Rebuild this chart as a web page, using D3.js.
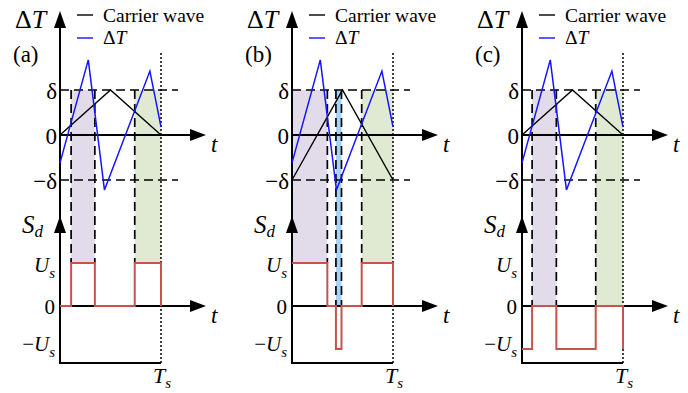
<!DOCTYPE html>
<html>
<head>
<meta charset="utf-8">
<script src="https://cdn.jsdelivr.net/npm/d3@7"></script>
<style>
  body { margin: 0; background: #fff; }
  svg text { font-family: 'Liberation Serif', 'Times New Roman', Times, serif; fill: #000; }
</style>
</head>
<body>
<svg id="chart" width="688" height="393"></svg>
<script>
// ---- data (time in units of Ts, ΔT in units of δ, S_d in units of U_s) ----
const panelLabels = ['(a)', '(b)', '(c)'];

const waveTimes = [0, 0.28, 0.44, 0.89, 1];
const deltaTValues = [-0.62, 1.67, -1.22, 1.42, 0.18];

const carrierTimes = [0, 0.5, 1];
const carrierValues = [[0, 1, 0], [-1, 1, -1], [0, 1, 0]];

const sdTimes = [
    [0, 0.11, 0.345, 0.74, 1],
    [0, 0.35, 0.435, 0.49, 0.69, 1],
    [0, 0.10, 0.34, 0.73, 1]
];
const sdLevels = [
    [0, 1, 0, 1, 0],
    [1, 0, -1, 0, 1, 0],
    [-1, 0, -1, 0, -1]
];

const shadeSpans = [
    [[0.11, 0.345], [0.74, 1]],
    [[0, 0.35], [0.435, 0.49], [0.69, 1]],
    [[0.10, 0.34], [0.73, 1]]
];
const shadeKinds = [['purple', 'green'], ['purple', 'blue', 'green'], ['purple', 'green']];
const shadeFloor = [[1, 1], [1, 0, 1], [0, 0]];

const upperTicks = [1, 0, -1];
const upperTickLabels = ['δ', '0', '−δ'];
const lowerTicks = [1, 0, -1];
const lowerTickLabels = [['', 'U', 's'], ['', '0', ''], ['−', 'U', 's']];

// ---- layout ----
const axisX = [60, 292, 522];
const span = 101;
const shadeColor = { purple: '#e2dcea', green: '#e0ead2', blue: '#a9d3f5' };
const redColor = '#c5544a';
const blueColor = '#1414ff';

const svg = d3.select('#chart');

panelLabels.forEach((label, i) => {
    const ax = axisX[i];
    const g = svg.append('g');

    const x = d3.scaleLinear().domain([0, 1]).range([ax, ax + span]);
    const yU = d3.scaleLinear().domain([-1, 1]).range([180, 90]);
    const yL = d3.scaleLinear().domain([-1, 1]).range([349, 263]);

    // shaded switching regions
    shadeSpans[i].forEach((s, j) => {
        g.append('rect')
            .attr('x', x(s[0]))
            .attr('y', yU(1))
            .attr('width', x(s[1]) - x(s[0]))
            .attr('height', yL(shadeFloor[i][j]) - yU(1))
            .attr('fill', shadeColor[shadeKinds[i][j]]);
    });

    // dashed δ / -δ guides
    [1, -1].forEach(v => {
        g.append('line')
            .attr('x1', x(0)).attr('x2', x(1) + 17)
            .attr('y1', yU(v)).attr('y2', yU(v))
            .attr('stroke', '#000').attr('stroke-width', 1.7)
            .attr('stroke-dasharray', '9,5');
    });

    // dashed switching edges
    shadeSpans[i].forEach((s, j) => {
        s.forEach(t => {
            if (t === 0 || t === 1) return;
            g.append('line')
                .attr('x1', x(t)).attr('x2', x(t))
                .attr('y1', yU(1)).attr('y2', yL(shadeFloor[i][j]))
                .attr('stroke', '#000').attr('stroke-width', 1.7)
                .attr('stroke-dasharray', '9,5');
        });
    });

    // dotted Ts line
    g.append('line')
        .attr('x1', x(1)).attr('x2', x(1))
        .attr('y1', 53).attr('y2', 363)
        .attr('stroke', '#000').attr('stroke-width', 1.5)
        .attr('stroke-dasharray', '2,2');

    // axes
    const axisStyle = sel => sel.attr('stroke', '#000').attr('stroke-width', 2);
    g.append('line').attr('x1', ax).attr('x2', ax).attr('y1', 364).attr('y2', 20).call(axisStyle);
    g.append('line').attr('x1', ax).attr('x2', x(1)).attr('y1', 363).attr('y2', 363).call(axisStyle);
    [yU(0), yL(0)].forEach(yy => {
        g.append('line').attr('x1', ax).attr('x2', x(1) + 36).attr('y1', yy).attr('y2', yy).call(axisStyle);
        g.append('path')
            .attr('d', `M${x(1) + 45},${yy} L${x(1) + 29},${yy - 6} L${x(1) + 29},${yy + 6} Z`)
            .attr('fill', '#000');
    });
    g.append('path').attr('d', `M${ax},11 L${ax - 6},28 L${ax + 6},28 Z`).attr('fill', '#000');
    g.append('path').attr('d', `M${ax},216 L${ax - 6},233 L${ax + 6},233 Z`).attr('fill', '#000');

    // carrier wave
    const lineU = d3.line().x(d => x(d[0])).y(d => yU(d[1]));
    g.append('path')
        .datum(carrierTimes.map((t, k) => [t, carrierValues[i][k]]))
        .attr('d', lineU)
        .attr('fill', 'none').attr('stroke', '#000').attr('stroke-width', 1.4);

    // ΔT
    g.append('path')
        .datum(waveTimes.map((t, k) => [t, deltaTValues[k]]))
        .attr('d', lineU)
        .attr('fill', 'none').attr('stroke', blueColor).attr('stroke-width', 1.5);

    // S_d
    const lineL = d3.line().x(d => x(d[0])).y(d => yL(d[1])).curve(d3.curveStepAfter);
    g.append('path')
        .datum(sdTimes[i].map((t, k) => [t, sdLevels[i][k]]))
        .attr('d', lineL)
        .attr('fill', 'none').attr('stroke', redColor).attr('stroke-width', 2);

    // legend
    g.append('line').attr('x1', ax + 17).attr('x2', ax + 33).attr('y1', 15).attr('y2', 15)
        .attr('stroke', '#000').attr('stroke-width', 1.4);
    g.append('text').attr('x', ax + 43).attr('y', 22).attr('font-size', 19.5).text('Carrier wave');
    g.append('line').attr('x1', ax + 17).attr('x2', ax + 33).attr('y1', 38).attr('y2', 38)
        .attr('stroke', blueColor).attr('stroke-width', 1.4);
    const lt = g.append('text').attr('x', ax + 43).attr('y', 44).attr('font-size', 19.5);
    lt.append('tspan').text('Δ');
    lt.append('tspan').attr('font-style', 'italic').text('T');

    // axis titles
    const at = g.append('text').attr('x', ax - 45).attr('y', 28).attr('font-size', 26);
    at.append('tspan').text('Δ');
    at.append('tspan').attr('font-style', 'italic').text('T');
    g.append('text').attr('x', ax - 47).attr('y', 62).attr('font-size', 23).text(label);

    g.append('text').attr('x', x(1) + 50).attr('y', yU(0) + 17)
        .attr('font-size', 23).attr('font-style', 'italic').text('t');
    g.append('text').attr('x', x(1) + 50).attr('y', yL(0) + 17)
        .attr('font-size', 23).attr('font-style', 'italic').text('t');

    const sd = g.append('text').attr('x', ax - 38).attr('y', 233).attr('font-size', 25).attr('font-style', 'italic');
    sd.append('tspan').text('S');
    sd.append('tspan').attr('font-size', 17).attr('dy', 4).text('d');

    const ts = g.append('text').attr('x', x(1) - 8).attr('y', 383).attr('font-size', 22).attr('font-style', 'italic');
    ts.append('tspan').text('T');
    ts.append('tspan').attr('font-size', 15).attr('dy', 5).text('s');

    // tick labels
    upperTicks.forEach((v, k) => {
        g.append('text')
            .attr('x', ax - 3).attr('y', yU(v) + 9)
            .attr('text-anchor', 'end').attr('font-size', 23)
            .text(upperTickLabels[k]);
    });
    lowerTicks.forEach((v, k) => {
        const parts = lowerTickLabels[k];
        const yy = v > 0 ? yL(v) + 9 : v === 0 ? yL(v) + 8 : yL(v) + 2;
        const tx = g.append('text')
            .attr('x', ax - 5).attr('y', yy)
            .attr('text-anchor', 'end').attr('font-size', 21);
        if (parts[0]) tx.append('tspan').text(parts[0]);
        if (parts[2]) {
            tx.append('tspan').attr('font-style', 'italic').text(parts[1]);
            tx.append('tspan').attr('font-style', 'italic').attr('font-size', 15).attr('dy', 6).text(parts[2]);
        } else {
            tx.append('tspan').text(parts[1]);
        }
    });
});
</script>
</body>
</html>
